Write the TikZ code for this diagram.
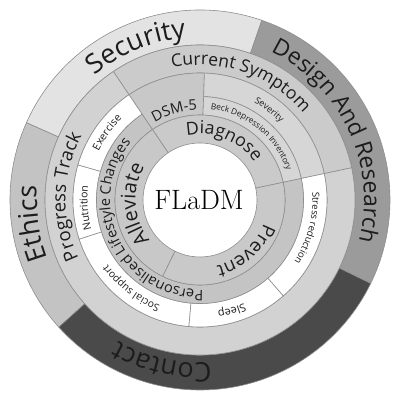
\documentclass[tikz,border=0pt]{standalone}
\usepackage{fontspec}
\usetikzlibrary{decorations.text}
\newfontfamily\labfont{Open Sans}
\definecolor{lnc}{HTML}{8E8E8E}
\definecolor{txt}{HTML}{1C1C1C}
\definecolor{cSec}{HTML}{E3E3E3}
\definecolor{cDes}{HTML}{9B9B9B}
\definecolor{cCon}{HTML}{4A4A4A}
\definecolor{cEth}{HTML}{C3C3C3}
\definecolor{cCur}{HTML}{CBCBCB}
\definecolor{cPro}{HTML}{D2D2D2}
\definecolor{cDsm}{HTML}{C8C8C8}
\definecolor{cSev}{HTML}{D6D6D6}
\definecolor{cBeck}{HTML}{D6D6D6}
\definecolor{cDia}{HTML}{CACACA}
\definecolor{cAll}{HTML}{C8C8C8}
\definecolor{cPre}{HTML}{C9C9C9}
\definecolor{cLife}{HTML}{C4C4C4}
\newcommand{\annsec}[5]{\path[fill=#1, draw=lnc, line width=0.6pt] (#2:#4pt) arc[start angle=#2, end angle=#3, radius=#4pt] -- (#3:#5pt) arc[start angle=#3, end angle=#2, radius=#5pt] -- cycle;}
\newcommand{\arctext}[5]{\path[decorate, decoration={text along path, text align=center, text color=txt, text={|\labfont\fontsize{#4}{#4}\selectfont|#5}}] (#1+#2:#3pt) arc[start angle=#1+#2, end angle=#1-#2, radius=#3pt];}
\begin{document}
\begin{tikzpicture}
\useasboundingbox (-200pt,-196pt) rectangle (193pt,200pt);
\fill[white] (-200pt,-196pt) rectangle (193pt,200pt);
% outer ring
\annsec{cSec}{71}{156}{155}{190}
\annsec{cEth}{156}{222}{155}{190}
\annsec{cCon}{222}{334}{155}{190}
\annsec{cDes}{-26}{71}{155}{190}
% ring 2
\annsec{cCur}{12}{124}{127}{155}
\annsec{cPro}{124}{372}{127}{155}
% diagnose branch
\annsec{cDsm}{88}{124}{85}{127}
\annsec{cSev}{12}{88}{103.5}{127}
\annsec{cBeck}{12}{88}{85}{103.5}
\annsec{cDia}{12}{124}{57}{85}
% white ring
\annsec{white}{124}{164}{103.5}{127}
\annsec{white}{164}{198}{103.5}{127}
\annsec{white}{198}{265}{103.5}{127}
\annsec{white}{265}{311}{103.5}{127}
\annsec{white}{311}{372}{103.5}{127}
% lifestyle ring and inner ring
\annsec{cLife}{124}{372}{85}{103.5}
\annsec{cAll}{124}{244}{57}{85}
\annsec{cPre}{244}{372}{57}{85}
% labels
\arctext{112.5}{60}{163}{27}{Security}
\arctext{25}{80}{164}{23}{Design And Research}
\arctext{257}{60}{163}{27}{Contact}
\arctext{188}{50}{163}{27}{Ethics}
\arctext{71}{70}{135}{17.5}{Current Symptom}
\arctext{178.5}{70}{134.5}{18.5}{Progress Track}
\arctext{106}{40}{90}{14.6}{DSM-5}
\arctext{52.5}{40}{111.5}{9}{Severity}
\arctext{51}{60}{91.5}{8.3}{Beck Depression Inventory}
\arctext{68}{80}{66}{17.8}{Diagnose}
\arctext{184}{80}{64.5}{20}{Alleviate}
\arctext{312}{80}{68}{18.6}{Prevent}
\arctext{206}{100}{90}{14.5}{Personalised Lifestyle Changes}
\arctext{144}{40}{112.5}{10.5}{Exercise}
\arctext{184}{40}{112.5}{10.5}{Nutrition}
\arctext{232}{40}{112.5}{10.2}{Social support}
\arctext{286}{40}{112.5}{11}{Sleep}
\arctext{345.5}{40}{112.5}{9.6}{Stress reduction}
\node[font=\fontsize{28}{28}\selectfont, inner sep=0pt] (core) at (-1pt,0pt) {FLaDM};
\end{tikzpicture}
\end{document}
